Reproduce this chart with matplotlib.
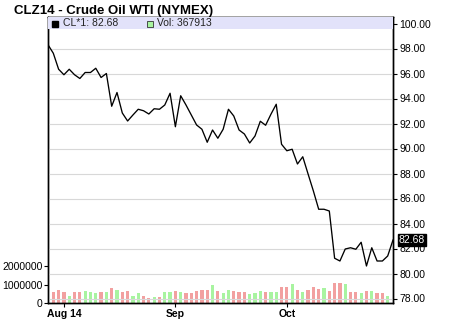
import matplotlib.pyplot as plt
import matplotlib.patches as mpatches
import matplotlib.transforms as mtransforms
import numpy as np

plt.rcParams['font.family'] = ['Liberation Sans', 'DejaVu Sans']

# daily settle prices, Jul 29 .. Oct 29 2014 (trading days)
prices = [98.30, 97.62, 96.34, 95.90, 96.34, 95.90, 95.60, 96.08, 96.08, 96.42,
          95.68, 96.00, 93.38, 94.48, 92.84, 92.20, 92.68, 93.14, 93.02, 92.76,
          93.18, 93.14, 93.48, 94.42, 91.74, 94.22, 93.48, 92.68, 91.88, 91.54,
          90.50, 91.48, 90.82, 91.54, 93.14, 92.60, 91.48, 91.16, 90.44, 91.00,
          92.18, 91.86, 92.74, 93.54, 90.34, 89.82, 89.94, 88.76, 89.34, 87.96,
          86.60, 85.14, 85.14, 85.00, 81.22, 81.00, 81.96, 82.06, 81.94, 82.50,
          80.60, 82.06, 81.00, 81.00, 81.40, 82.68]

# volume for days 1..64
volumes = [580000, 720000, 610000, 400000, 580000, 580000, 670000, 580000, 520000, 580000,
           610000, 830000, 720000, 580000, 670000, 400000, 520000, 400000, 290000, 340000,
           340000, 580000, 580000, 670000, 610000, 520000, 520000, 630000, 680000, 720000,
           1000000, 670000, 560000, 720000, 670000, 580000, 580000, 490000, 540000, 670000,
           580000, 580000, 580000, 860000, 860000, 1050000, 720000, 580000, 720000, 860000,
           760000, 810000, 670000, 1100000, 1100000, 1050000, 610000, 580000, 520000, 670000,
           670000, 520000, 520000, 400000]
# bar colour: u = up day (green), d = down day (pink)
vol_dir = ("dddudduuud"
           "ududduuddu"
           "duududdddd"
           "uduuddduuu"
           "duuddududd"
           "duddduddud"
           "uddu")

month_pos = [3, 24, 45]
month_labels = ['Aug 14', 'Sep', 'Oct']
price_ticks = [78, 80, 82, 84, 86, 88, 90, 92, 94, 96, 98, 100]
vol_ticks = [0, 1000000, 2000000]
last_price = 82.68
last_vol = 367913

x = np.arange(len(prices))
xv = np.arange(1, len(volumes) + 1)

fig = plt.figure(figsize=(4.57, 3.34), dpi=100)
axv = fig.add_axes([48 / 457, 31 / 334, 345 / 457, 286 / 334])
ax = axv.twinx()
ax.set_zorder(axv.get_zorder() + 1)
ax.patch.set_visible(False)

pink = '#f2a0a0'
green = '#a8f4a0'
cols = [green if d == 'u' else pink for d in vol_dir]
axv.bar(xv, volumes, width=0.6, color=cols, linewidth=0)
axv.set_ylim(0, 15.46e6)
axv.set_yticks(vol_ticks)
axv.set_yticklabels([str(v) for v in vol_ticks])
axv.yaxis.tick_left()
axv.tick_params(axis='y', length=3, width=0.8, pad=1, labelsize=7.5)

ax.plot(x, prices, color='black', linewidth=0.95)
ax.set_xlim(0, len(prices) - 1)
ax.set_ylim(77.64, 100.52)
ax.set_yticks(price_ticks)
ax.set_yticklabels(['%.2f' % p for p in price_ticks])
ax.yaxis.tick_right()
ax.tick_params(axis='y', length=3, width=0.8, pad=1.5, labelsize=7.5)
ax.grid(True, color='#d8d8d8', linewidth=0.8)

axv.set_xticks(month_pos)
axv.set_xticklabels(month_labels, fontweight='bold')
axv.tick_params(axis='x', length=3, width=0.8, pad=1, labelsize=7.5)
ax.set_xticks(month_pos)
ax.tick_params(axis='x', length=0)

for a in (ax, axv):
    for s in a.spines.values():
        s.set_linewidth(1.0)
        s.set_color('black')

# legend band
band = mpatches.Rectangle((0, 1 - 12 / 286), 1, 12 / 286, transform=ax.transAxes,
                          facecolor='#e2e2fa', edgecolor='none', zorder=3)
ax.add_patch(band)
ax.add_patch(mpatches.Rectangle((4 / 345, 1 - 10 / 286), 6 / 345, 6 / 286, transform=ax.transAxes,
                                facecolor='black', edgecolor='black', zorder=4))
ax.text(15 / 345, 1 - 6 / 286, 'CL*1: %.2f' % last_price, transform=ax.transAxes,
        fontsize=7.5, va='center', ha='left', color='#222222', zorder=5)
ax.add_patch(mpatches.Rectangle((99 / 345, 1 - 10 / 286), 6 / 345, 6 / 286, transform=ax.transAxes,
                                facecolor='#a8f4a0', edgecolor='#333333', linewidth=0.6, zorder=4))
ax.text(109 / 345, 1 - 6 / 286, 'Vol: %d' % last_vol, transform=ax.transAxes,
        fontsize=7.5, va='center', ha='left', color='#222222', zorder=5)

# last price marker on right axis
trans = mtransforms.blended_transform_factory(ax.transAxes, ax.transData)
ax.text(1 + 6 / 345, last_price, '%.2f' % last_price, transform=trans, fontsize=7.5,
        color='white', va='center', ha='left', zorder=6,
        bbox=dict(boxstyle='square,pad=0.1', facecolor='black', edgecolor='black'))

fig.text(14 / 457, 1 - 11 / 334, 'CLZ14 - Crude Oil WTI (NYMEX)', fontsize=9.5,
         fontweight='bold', va='center', ha='left')

fig.savefig('out.png', dpi=100)
